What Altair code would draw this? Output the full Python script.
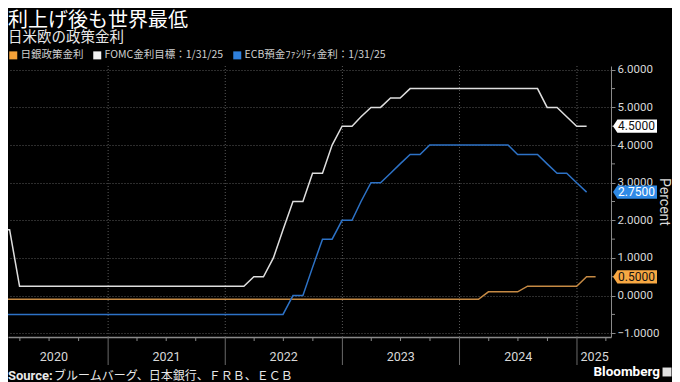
import altair as alt
import pandas as pd

# ---------------- layout constants ----------------
W, H = 603, 271
CJK = "Noto Sans CJK JP"
NUM = "Roboto"

# ---------------- texts ----------------
title_text = "利上げ後も世界最低"
subtitle_text = "日米欧の政策金利"
source_label = "Source:"
source_text = "ブルームバーグ、日本銀行、ＦＲＢ、ＥＣＢ"
brand_text = "Bloomberg"
axis_title = "Percent"

# ---------------- series ----------------
series_names = ["日銀政策金利", "FOMC金利目標：1/31/25", "ECB預金ﾌｧｼﾘﾃｨ金利：1/31/25"]
legend_colors = ["#f5a238", "#f2f2f2", "#2f80dc"]
line_colors = ["#c68a44", "#dedede", "#2d72c6"]
tag_fills = ["#f7a843", "#ffffff", "#2f8ae6"]
tag_text_colors = ["#111111", "#111111", "#ffffff"]

# month-end values, Jan 2020 onward
boj_values = [
    -0.1, -0.1, -0.1, -0.1, -0.1, -0.1, -0.1, -0.1, -0.1, -0.1, -0.1, -0.1,  # 2020
    -0.1, -0.1, -0.1, -0.1, -0.1, -0.1, -0.1, -0.1, -0.1, -0.1, -0.1, -0.1,  # 2021
    -0.1, -0.1, -0.1, -0.1, -0.1, -0.1, -0.1, -0.1, -0.1, -0.1, -0.1, -0.1,  # 2022
    -0.1, -0.1, -0.1, -0.1, -0.1, -0.1, -0.1, -0.1, -0.1, -0.1, -0.1, -0.1,  # 2023
    -0.1, -0.1, 0.1, 0.1, 0.1, 0.1, 0.25, 0.25, 0.25, 0.25, 0.25, 0.25,      # 2024
    0.5, 0.5,                                                                # 2025
]
fed_values = [
    1.75, 1.75, 0.25, 0.25, 0.25, 0.25, 0.25, 0.25, 0.25, 0.25, 0.25, 0.25,  # 2020
    0.25, 0.25, 0.25, 0.25, 0.25, 0.25, 0.25, 0.25, 0.25, 0.25, 0.25, 0.25,  # 2021
    0.25, 0.25, 0.5, 0.5, 1.0, 1.75, 2.5, 2.5, 3.25, 3.25, 4.0, 4.5,         # 2022
    4.5, 4.75, 5.0, 5.0, 5.25, 5.25, 5.5, 5.5, 5.5, 5.5, 5.5, 5.5,           # 2023
    5.5, 5.5, 5.5, 5.5, 5.5, 5.5, 5.5, 5.5, 5.0, 5.0, 4.75, 4.5,             # 2024
    4.5,                                                                     # 2025
]
ecb_values = [
    -0.5, -0.5, -0.5, -0.5, -0.5, -0.5, -0.5, -0.5, -0.5, -0.5, -0.5, -0.5,  # 2020
    -0.5, -0.5, -0.5, -0.5, -0.5, -0.5, -0.5, -0.5, -0.5, -0.5, -0.5, -0.5,  # 2021
    -0.5, -0.5, -0.5, -0.5, -0.5, -0.5, 0.0, 0.0, 0.75, 1.5, 1.5, 2.0,       # 2022
    2.0, 2.5, 3.0, 3.0, 3.25, 3.5, 3.75, 3.75, 4.0, 4.0, 4.0, 4.0,           # 2023
    4.0, 4.0, 4.0, 4.0, 4.0, 3.75, 3.75, 3.75, 3.5, 3.25, 3.25, 3.0,         # 2024
    2.75,                                                                    # 2025
]

# ---------------- axis helpers ----------------
year_labels = ["2020", "2021", "2022", "2023", "2024", "2025"]
year_label_dates = ["2020-07-16", "2021-07-02", "2022-07-02", "2023-07-02", "2024-07-02", "2025-02-25"]
year_start_dates = ["2021-01-01", "2022-01-01", "2023-01-01", "2024-01-01", "2025-01-01"]
quarter_dates = [
    "2020-04-01", "2020-07-01", "2020-10-01",
    "2021-04-01", "2021-07-01", "2021-10-01",
    "2022-04-01", "2022-07-01", "2022-10-01",
    "2023-04-01", "2023-07-01", "2023-10-01",
    "2024-04-01", "2024-07-01", "2024-10-01",
    "2025-04-01",
]
y_ticks = [-1, 0, 1, 2, 3, 4, 5, 6]
y_minor_ticks = [-0.5, 0.5, 1.5, 2.5, 3.5, 4.5, 5.5]

# ---------------- data frames ----------------
month_ends = (pd.date_range(start="2020-01-01", periods=len(boj_values), freq="MS")
              + pd.offsets.MonthEnd(0)).strftime("%Y-%m-%d").tolist()

rows = []
for name, vals in zip(series_names, [boj_values, fed_values, ecb_values]):
    for d, v in zip(month_ends, vals):
        rows.append({"date": d, "value": v, "series": name})
lines_df = pd.DataFrame(rows)

last_vals = [boj_values[-1], fed_values[-1], ecb_values[-1]]
tags_df = pd.DataFrame({
    "series": series_names,
    "value": last_vals,
    "fill": tag_fills,
    "tcolor": tag_text_colors,
})

x_scale = alt.Scale(domain=[alt.DateTime(year=2020, month=2, date=24),
                            alt.DateTime(year=2025, month=4, date=17)])
y_scale = alt.Scale(domain=[-1.1, 6.1], nice=False, zero=False)

x_axis = alt.Axis(labels=False, ticks=False, grid=False, title=None,
                  domainColor="#8a8a8a", domainWidth=1.5)
y_axis = alt.Axis(orient="right", values=y_ticks, format=".4f",
                  labelColor="#d8d8d8", labelFont=NUM, labelFontSize=11.5,
                  labelPadding=2, tickSize=4, tickColor="#8a8a8a", tickWidth=1,
                  domainColor="#8a8a8a", grid=True, gridColor="#5a5a5a",
                  gridDash=[1, 2], gridWidth=1,
                  title=axis_title, titleColor="#d8d8d8", titleFont=NUM,
                  titleFontSize=14, titleFontWeight="normal", titlePadding=-2)
legend = alt.Legend(orient="none", legendX=0, legendY=-16, direction="horizontal",
                    title=None, symbolType="square", symbolSize=64,
                    symbolStrokeWidth=0, symbolOpacity=1, labelColor="#d0d0d0",
                    labelFont=CJK, labelFontSize=10.5, labelOffset=2,
                    columnPadding=8, padding=0)

X = lambda f: alt.X(f, scale=x_scale, axis=x_axis)
Y = lambda f: alt.Y(f, scale=y_scale, axis=y_axis)

# ---------------- layers ----------------
# filled squares hidden under the value tags; they carry the legend
legend_keys = alt.Chart(tags_df).mark_square(size=20, opacity=1, filled=True).encode(
    x=alt.value(W + 28),
    y=Y("value:Q"),
    color=alt.Color("series:N", scale=alt.Scale(domain=series_names, range=legend_colors),
                    legend=legend),
)

vgrid = alt.Chart(pd.DataFrame({"date": year_start_dates})).mark_rule(
    color="#5a5a5a", strokeDash=[1, 2], strokeWidth=1
).encode(x=X("date:T"), y=alt.value(0), y2=alt.value(H))

year_ticks = alt.Chart(pd.DataFrame({"date": year_start_dates})).mark_rule(
    color="#6a6a6a", strokeWidth=1
).encode(x=X("date:T"), y=alt.value(H), y2=alt.value(H + 28))

q_ticks = alt.Chart(pd.DataFrame({"date": quarter_dates})).mark_rule(
    color="#8a8a8a", strokeWidth=1
).encode(x=X("date:T"), y=alt.value(H), y2=alt.value(H + 4))

y_minor = alt.Chart(pd.DataFrame({"value": y_minor_ticks})).mark_rule(
    color="#8a8a8a", strokeWidth=1
).encode(y=Y("value:Q"), x=alt.value(W), x2=alt.value(W + 4))

lines = alt.Chart(lines_df).mark_line(strokeWidth=1.5, clip=True, interpolate="linear").encode(
    x=X("date:T"),
    y=Y("value:Q"),
    stroke=alt.Stroke("series:N", scale=alt.Scale(domain=series_names, range=line_colors),
                      legend=None),
    order=alt.Order("date:T"),
)

year_text = alt.Chart(pd.DataFrame({"date": year_label_dates, "label": year_labels})).mark_text(
    color="#d8d8d8", font=NUM, fontSize=12.5, baseline="middle", align="center"
).encode(x=X("date:T"), y=alt.value(H + 20), text="label:N")

tag_shape = "M-1,0L-0.8,-0.3L1,-0.3L1,0.3L-0.8,0.3Z"
tags = alt.Chart(tags_df).mark_point(
    shape=tag_shape, filled=True, size=1936, opacity=1, strokeWidth=0
).encode(
    x=alt.value(W + 24),
    y=Y("value:Q"),
    fill=alt.Fill("fill:N", scale=None),
)
tag_text = alt.Chart(tags_df).mark_text(
    align="left", baseline="middle", font=NUM, fontSize=12
).encode(
    x=alt.value(W + 7),
    y=Y("value:Q"),
    text=alt.Text("value:Q", format=".4f"),
    color=alt.Color("tcolor:N", scale=None),
)

def label(txt, x, y, size, color="#ffffff", font=CJK, weight="normal", align="left"):
    return alt.Chart(pd.DataFrame({"t": [txt]})).mark_text(
        align=align, baseline="middle", fontSize=size, color=color, font=font, fontWeight=weight
    ).encode(text="t:N", x=alt.value(x), y=alt.value(y))

title = label(title_text, 0, -45.5, 20)
subtitle = label(subtitle_text, 0, -28, 14.5, color="#e8e8e8")
src1 = label(source_label, 0, 310, 13, color="#e8e8e8", font=NUM, weight="bold")
src2 = label(source_text, 46, 310, 12, color="#e8e8e8")
brand = label(brand_text, W + 49, 306, 13.5, color="#ffffff", font=NUM, weight="bold", align="right")
brand_icon = alt.Chart(pd.DataFrame({"t": [0]})).mark_point(
    shape="square", filled=True, color="#e0e0e0", size=80, opacity=1
).encode(x=alt.value(W + 56), y=alt.value(306))

chart = alt.layer(
    legend_keys, vgrid, year_ticks, q_ticks, y_minor, lines, year_text, tags, tag_text,
    title, subtitle, src1, src2, brand, brand_icon,
).properties(
    width=W, height=H,
    padding={"left": 0, "top": 58, "right": 61, "bottom": 45},
    autosize=alt.AutoSizeParams(type="none"),
    background="#000000",
).configure_view(stroke=None)

chart.save("out.html", embed_options={"renderer": "svg", "actions": False})
